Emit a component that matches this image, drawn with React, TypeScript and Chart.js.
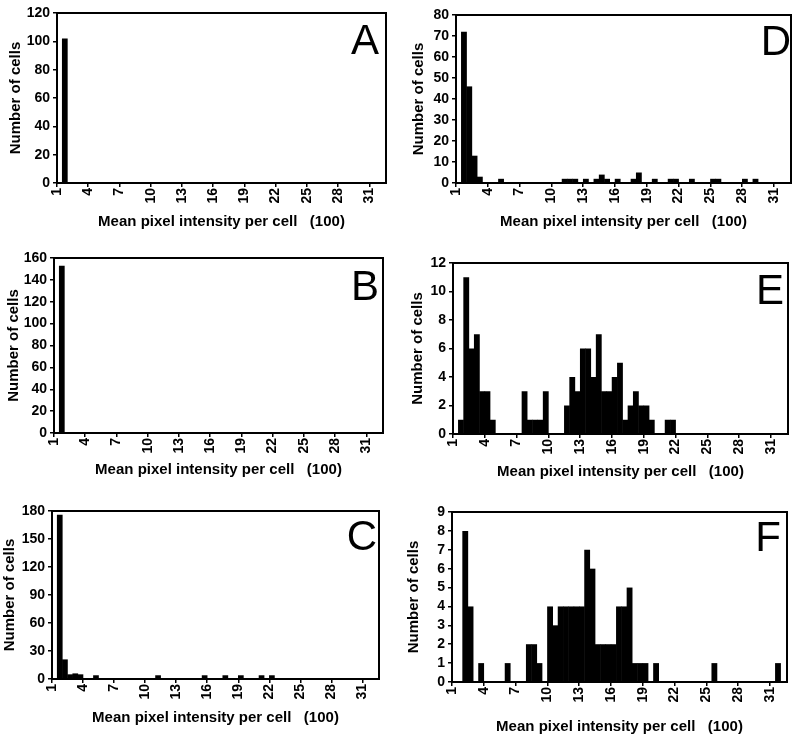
import React, { useEffect, useRef } from "react";
import { Chart, registerables } from "chart.js";

Chart.register(...registerables);

const FONT = '"Liberation Sans", Arial, Helvetica, sans-serif';

// Histogram bin centres (bins 50 units wide, axis in units of 100)
const binCenters = [
  1.25, 1.75, 2.25, 2.75, 3.25, 3.75, 4.25, 4.75, 5.25, 5.75, 6.25, 6.75,
  7.25, 7.75, 8.25, 8.75, 9.25, 9.75, 10.25, 10.75, 11.25, 11.75, 12.25, 12.75,
  13.25, 13.75, 14.25, 14.75, 15.25, 15.75, 16.25, 16.75, 17.25, 17.75, 18.25, 18.75,
  19.25, 19.75, 20.25, 20.75, 21.25, 21.75, 22.25, 22.75, 23.25, 23.75, 24.25, 24.75,
  25.25, 25.75, 26.25, 26.75, 27.25, 27.75, 28.25, 28.75, 29.25, 29.75, 30.25, 30.75,
  31.25, 31.75, 32.25,
];

const xTickValues = [1, 4, 7, 10, 13, 16, 19, 22, 25, 28, 31];

const xTitle = "Mean pixel intensity per cell\u00a0\u00a0\u00a0(100)";
const yTitle = "Number of cells";

// Panel A
const aCenters = [1.75];
const aCounts = [102];
// Panel B
const bCenters = [1.75];
const bCounts = [153];
// Panel C
const cCenters = [1.75, 2.25, 2.75, 3.25, 3.75, 5.25, 11.25, 15.75, 17.75, 19.25, 21.25, 22.25];
const cCounts = [176, 21, 5, 6, 5, 4, 4, 4, 4, 4, 4, 4];
// Panel D
const dCenters = [
  1.75, 2.25, 2.75, 3.25, 5.25, 11.25, 11.75, 12.25, 13.25, 14.25, 14.75, 15.25,
  16.25, 17.75, 18.25, 19.75, 21.25, 21.75, 23.25, 25.25, 25.75, 28.25, 29.25,
];
const dCounts = [72, 46, 13, 3, 2, 2, 2, 2, 2, 2, 4, 2, 2, 2, 5, 2, 2, 2, 2, 2, 2, 2, 2];
// Panel E
const eCenters = [
  1.75, 2.25, 2.75, 3.25, 3.75, 4.25, 4.75, 7.75, 8.25, 8.75, 9.25, 9.75,
  11.75, 12.25, 12.75, 13.25, 13.75, 14.25, 14.75, 15.25, 15.75, 16.25, 16.75, 17.25,
  17.75, 18.25, 18.75, 19.25, 19.75, 21.25, 21.75,
];
const eCounts = [
  1, 11, 6, 7, 3, 3, 1, 3, 1, 1, 1, 3,
  2, 4, 3, 6, 6, 4, 7, 3, 3, 4, 5, 1,
  2, 3, 2, 2, 1, 1, 1,
];
// Panel F
const fCenters = [
  2.25, 2.75, 3.75, 6.25, 8.25, 8.75, 9.25, 10.25, 10.75, 11.25, 11.75, 12.25,
  12.75, 13.25, 13.75, 14.25, 14.75, 15.25, 15.75, 16.25, 16.75, 17.25, 17.75, 18.25,
  18.75, 19.25, 20.25, 25.75, 31.75,
];
const fCounts = [
  8, 4, 1, 1, 2, 2, 1, 4, 3, 4, 4, 4,
  4, 4, 7, 6, 2, 2, 2, 2, 4, 4, 5, 1,
  1, 1, 1, 1, 1,
];

type Panel = {
  letter: string;
  centers: number[];
  counts: number[];
  yMax: number;
  yStep: number;
  left: number;
  top: number;
  width: number;
  height: number;
  padTop: number;
  padRight: number;
  yAxisW: number;
  xAxisH: number;
  xTitlePad: number;
  yTitlePad: number;
  letterDx: number;
  letterDy: number;
};

const panels: Panel[] = [
  { letter: "A", centers: aCenters, counts: aCounts, yMax: 120, yStep: 20,
    left: 0, top: 0, width: 400, height: 240,
    padTop: 13, padRight: 14, yAxisW: 57, xAxisH: 57, xTitlePad: 10.8, yTitlePad: 8.2,
    letterDx: 7, letterDy: 40.6 },
  { letter: "D", centers: dCenters, counts: dCounts, yMax: 80, yStep: 10,
    left: 400, top: 0, width: 400, height: 240,
    padTop: 15, padRight: 9, yAxisW: 56, xAxisH: 57, xTitlePad: 10.8, yTitlePad: 11.2,
    letterDx: 0, letterDy: 40 },
  { letter: "B", centers: bCenters, counts: bCounts, yMax: 160, yStep: 20,
    left: 0, top: 240, width: 400, height: 240,
    padTop: 18, padRight: 17, yAxisW: 54, xAxisH: 47, xTitlePad: 2.5, yTitlePad: 6.5,
    letterDx: 4, letterDy: 41.7 },
  { letter: "E", centers: eCenters, counts: eCounts, yMax: 12, yStep: 2,
    left: 400, top: 240, width: 400, height: 240,
    padTop: 23, padRight: 12, yAxisW: 53, xAxisH: 46, xTitlePad: 0.8, yTitlePad: 10,
    letterDx: 4, letterDy: 40.6 },
  { letter: "C", centers: cCenters, counts: cCounts, yMax: 180, yStep: 30,
    left: 0, top: 480, width: 400, height: 258,
    padTop: 31, padRight: 21, yAxisW: 52, xAxisH: 59, xTitlePad: 12.2, yTitlePad: 2,
    letterDx: 2, letterDy: 39.3 },
  { letter: "F", centers: fCenters, counts: fCounts, yMax: 9, yStep: 1,
    left: 400, top: 480, width: 400, height: 258,
    padTop: 32, padRight: 13, yAxisW: 52, xAxisH: 56, xTitlePad: 3.8, yTitlePad: 6.5,
    letterDx: 6, letterDy: 39.3 },
];

const framePlugin = {
  id: "frame",
  afterDatasetsDraw(chart: any, _args: any, opts: any) {
    const { ctx, chartArea: a } = chart;
    ctx.save();
    ctx.strokeStyle = "#000";
    ctx.lineWidth = 2;
    ctx.strokeRect(a.left, a.top, a.right - a.left, a.bottom - a.top);
    ctx.font = `normal 42px ${FONT}`;
    ctx.fillStyle = "#000";
    ctx.textAlign = "right";
    ctx.textBaseline = "alphabetic";
    ctx.fillText(opts.letter, a.right - opts.dx, a.top + opts.dy);
    ctx.restore();
  },
};

function HistPanel({ p }: { p: Panel }) {
  const ref = useRef<HTMLCanvasElement | null>(null);
  useEffect(() => {
    if (!ref.current) return;
    const data = binCenters.map((c) => {
      const i = p.centers.indexOf(c);
      return { x: c, y: i >= 0 ? p.counts[i] : 0 };
    });
    const tickFont = { family: FONT, size: 14, weight: "bold" as const };
    const titleFont = { family: FONT, size: 15, weight: "bold" as const, lineHeight: 1 };
    const gridOpts = {
      display: true,
      drawOnChartArea: false,
      drawTicks: true,
      tickLength: 4,
      color: "#000",
      lineWidth: 1.5,
      offset: false,
    };
    const chart = new Chart(ref.current, {
      type: "bar",
      data: {
        datasets: [
          {
            data: data as any,
            backgroundColor: "#000",
            borderWidth: 0,
            barPercentage: 1.1,
            categoryPercentage: 1,
            grouped: false,
          },
        ],
      },
      plugins: [framePlugin as any],
      options: {
        responsive: false,
        animation: false,
        layout: { padding: { top: p.padTop, right: p.padRight, left: 0, bottom: 0 } },
        plugins: {
          legend: { display: false },
          tooltip: { enabled: false },
          frame: { letter: p.letter, dx: p.letterDx, dy: p.letterDy },
        } as any,
        scales: {
          x: {
            type: "linear",
            min: 1,
            max: 32.6,
            offset: false,
            afterBuildTicks: (s: any) => {
              s.ticks = xTickValues.map((v) => ({ value: v }));
            },
            afterFit: (s: any) => {
              s.height = p.xAxisH;
              s.paddingLeft = 0;
              s.paddingRight = 0;
            },
            ticks: {
              autoSkip: false,
              maxRotation: 90,
              minRotation: 90,
              padding: 1,
              color: "#000",
              font: tickFont,
            },
            grid: gridOpts,
            border: { display: false },
            title: {
              display: true,
              text: xTitle,
              color: "#000",
              font: titleFont,
              padding: { top: 0, bottom: p.xTitlePad },
            },
          },
          y: {
            type: "linear",
            min: 0,
            max: p.yMax,
            afterFit: (s: any) => {
              s.width = p.yAxisW;
              s.paddingTop = 0;
              s.paddingBottom = 0;
            },
            ticks: {
              stepSize: p.yStep,
              autoSkip: false,
              padding: 3,
              color: "#000",
              font: tickFont,
            },
            grid: gridOpts,
            border: { display: false },
            title: {
              display: true,
              text: yTitle,
              color: "#000",
              font: titleFont,
              padding: { top: p.yTitlePad, bottom: 0 },
            },
          },
        },
      } as any,
    });
    return () => chart.destroy();
  }, [p]);

  return (
    <div style={{ position: "absolute", left: p.left, top: p.top, width: p.width, height: p.height }}>
      <canvas ref={ref} width={p.width} height={p.height} style={{ display: "block" }} />
    </div>
  );
}

export default function App() {
  return (
    <div
      style={{
        position: "absolute",
        left: 0,
        top: 0,
        width: 800,
        height: 738,
        background: "#fff",
        overflow: "hidden",
      }}
    >
      {panels.map((p) => (
        <HistPanel key={p.letter} p={p} />
      ))}
    </div>
  );
}
